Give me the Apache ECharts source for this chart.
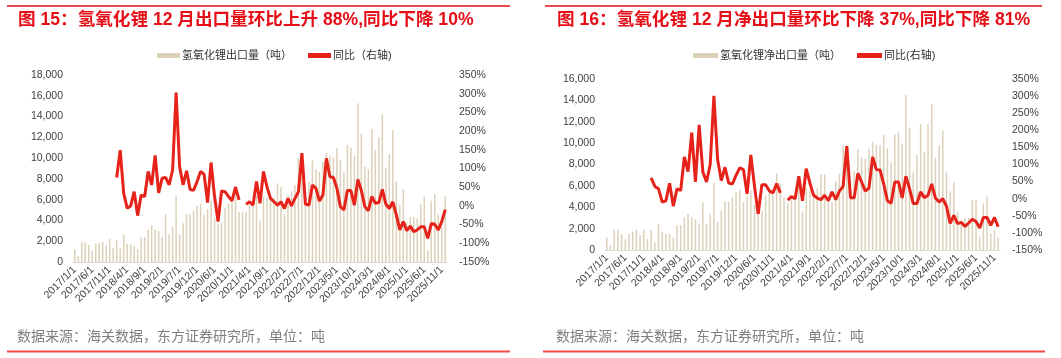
<!DOCTYPE html>
<html><head><meta charset="utf-8">
<script src="https://cdn.jsdelivr.net/npm/echarts@6/dist/echarts.min.js"></script>
<style>html,body{margin:0;padding:0;background:#fff}#c{width:1061px;height:358px}</style>
</head><body><div id="c"></div>
<script>
var categories = [
'2017/1/1','2017/2/1','2017/3/1','2017/4/1','2017/5/1','2017/6/1','2017/7/1','2017/8/1','2017/9/1','2017/10/1','2017/11/1','2017/12/1',
'2018/1/1','2018/2/1','2018/3/1','2018/4/1','2018/5/1','2018/6/1','2018/7/1','2018/8/1','2018/9/1','2018/10/1','2018/11/1','2018/12/1',
'2019/1/1','2019/2/1','2019/3/1','2019/4/1','2019/5/1','2019/6/1','2019/7/1','2019/8/1','2019/9/1','2019/10/1','2019/11/1','2019/12/1',
'2020/1/1','2020/3/1','2020/4/1','2020/5/1','2020/6/1','2020/7/1','2020/8/1','2020/9/1','2020/10/1','2020/11/1','2020/12/1',
'2021/1/1','2021/2/1','2021/3/1','2021/4/1','2021/5/1','2021/6/1','2021/7/1','2021/8/1','2021/9/1','2021/10/1','2021/11/1','2021/12/1',
'2022/1/1','2022/2/1','2022/3/1','2022/4/1','2022/5/1','2022/6/1','2022/7/1','2022/8/1','2022/9/1','2022/10/1','2022/11/1','2022/12/1',
'2023/1/1','2023/2/1','2023/3/1','2023/4/1','2023/5/1','2023/6/1','2023/7/1','2023/8/1','2023/9/1','2023/10/1','2023/11/1','2023/12/1',
'2024/1/1','2024/2/1','2024/3/1','2024/4/1','2024/5/1','2024/6/1','2024/7/1','2024/8/1','2024/9/1','2024/10/1','2024/11/1','2024/12/1',
'2025/1/1','2025/2/1','2025/3/1','2025/4/1','2025/5/1','2025/6/1','2025/7/1','2025/8/1','2025/9/1','2025/10/1','2025/11/1','2025/12/1'];

// 图15 氢氧化锂出口量（吨）
var exportVol = [
1220,580,1890,1890,1640,1060,1760,1830,1960,1640,2210,1350,
2120,1380,2600,1730,1730,1570,1250,2400,2400,3110,3500,3140,
2980,2440,4590,2700,3400,6380,2700,3720,4590,4590,4940,5420,
5610,
4560,5070,5900,4300,3700,3800,5200,5650,5970,7300,
4800,4800,4800,5500,5600,6400,4000,6300,6200,6000,6200,7570,
7190,4600,6500,6800,7380,9980,9500,6500,7670,9770,8920,8690,
9670,10500,10200,10060,10950,9800,8630,11270,11040,10230,15270,12320,
9180,8920,12770,10780,12000,14240,9020,10400,12710,7790,5470,7000,
3800,4360,4300,4200,5580,6290,1150,5900,6510,4600,3380,6350];
// 图15 同比（%）
var exportYoY = [
null,null,null,null,null,null,null,null,null,null,null,null,
76,149,34,-6,0,38,-26,29,25,92,56,135,
35,74,76,56,96,303,105,56,94,44,42,65,
92,
85,9,116,25,-42,40,38,25,14,50,
16,null,4,11,2,65,7,92,51,20,11,2,
11,-7,20,0,20,38,141,5,2,56,47,13,
29,127,78,76,47,-2,-11,41,41,2,71,41,
-2,-13,25,7,9,44,5,-7,11,-24,-64,-42,
-66,-54,-69,-64,-56,-56,-87,-47,-49,-64,-42,-10];

// 图16 氢氧化锂净出口量（吨）
var netExportVol = [
1190,470,1880,1880,1470,1030,1530,1720,1880,1375,1900,1030,
1880,720,2440,1720,1500,1530,1190,2310,2310,3060,3375,3090,
2875,2470,4470,2440,3340,6280,2625,3660,4530,4530,4940,5400,
5590,
4470,5000,5600,4200,3280,3660,5090,5620,5160,7190,
6250,4940,4375,4690,5250,6400,3590,5800,5600,5300,5840,7090,
7090,5000,4500,6400,7125,9780,9780,4900,7400,9470,8660,8530,
9470,10100,9840,9780,10780,9530,8125,10840,11000,9940,14530,11470,
7250,8900,11780,9150,11720,13650,8600,9780,11160,7250,5500,6340,
3600,2400,3000,3000,4690,4690,1250,4380,5000,1560,1850,1165];
// 图16 同比（%）
var netExportYoY = [
null,null,null,null,null,null,null,null,null,null,null,null,
61,36,29,-10,-6,45,-22,29,24,122,79,193,
49,216,79,49,100,301,115,53,92,46,43,68,
90,
85,14,128,36,-45,41,41,23,17,44,
17,null,-4,6,0,66,-6,88,46,10,2,-3,
10,-6,20,-3,22,36,154,3,3,74,49,22,
31,122,85,84,43,-6,-13,49,49,2,66,29,
-14,-14,20,3,10,43,2,-10,0,-22,-72,-49,
-73,-69,-81,-71,-60,-67,-86,-55,-55,-78,-55,-82];

var leftTicks = {min:0, max:18000, interval:2000};
var leftTicks2 = {min:0, max:16000, interval:2000};
var pctTicks = {min:-150, max:350, interval:50};

var FONT = '"Liberation Sans", "Noto Sans CJK SC", sans-serif';
var RED = '#E60E17';
var LINE = '#E5231B';
var BAR = '#DCD1B8';
var LBL = '#404040';

function xAx(g){
  return {type:'category', gridIndex:g, data:categories, boundaryGap:true,
    axisTick:{show:false}, axisLine:{lineStyle:{color:'#D9D9D9', width:1}},
    axisLabel:{rotate:45, interval:4, fontSize:10.5, color:LBL, fontFamily:FONT, margin:6}};
}
function yAx(g, t, pct){
  return {type:'value', gridIndex:g, min:t.min, max:t.max, interval:t.interval,
    position: pct ? 'right' : 'left',
    splitLine:{show:false}, axisLine:{show:false}, axisTick:{show:false},
    axisLabel:{fontSize:10.5, color:LBL, fontFamily:FONT, margin: pct ? 12 : 10,
      formatter: pct ? function(v){return v+'%';} : function(v){return v.toLocaleString('en-US');}}};
}

var chart = echarts.init(document.getElementById('c'), null, {renderer:'canvas'});
chart.setOption({
  animation:false,
  backgroundColor:'#fff',
  textStyle:{fontFamily:FONT},
  grid:[
    {left:73, right:1061-447, top:75, bottom:358-262, containLabel:false},
    {left:605, right:1061-1000, top:79, bottom:358-250, containLabel:false}
  ],
  xAxis:[xAx(0), xAx(1)],
  yAxis:[yAx(0,leftTicks,false), yAx(0,pctTicks,true), yAx(1,leftTicks2,false), yAx(1,pctTicks,true)],
  legend:[
    {left:152, top:45, itemWidth:23, itemHeight:5, itemGap:16,
     textStyle:{fontSize:11, color:'#333', fontFamily:FONT, padding:[0,0,0,-3]},
     data:[{name:'氢氧化锂出口量（吨）', icon:'rect'},{name:'同比（右轴)', icon:'rect'}]},
    {left:688, top:45, itemWidth:25, itemHeight:5, itemGap:16,
     textStyle:{fontSize:11, color:'#333', fontFamily:FONT, padding:[0,0,0,-3]},
     data:[{name:'氢氧化锂净出口量（吨）', icon:'rect'},{name:'同比(右轴)', icon:'rect'}]}
  ],
  series:[
    {name:'氢氧化锂出口量（吨）', type:'bar', xAxisIndex:0, yAxisIndex:0, data:exportVol, barWidth:1.5, itemStyle:{color:BAR}},
    {name:'同比（右轴)', type:'line', xAxisIndex:0, yAxisIndex:1, data:exportYoY, symbol:'none', connectNulls:false,
     lineStyle:{color:LINE, width:3}, itemStyle:{color:LINE}},
    {name:'氢氧化锂净出口量（吨）', type:'bar', xAxisIndex:1, yAxisIndex:2, data:netExportVol, barWidth:1.5, itemStyle:{color:BAR}},
    {name:'同比(右轴)', type:'line', xAxisIndex:1, yAxisIndex:3, data:netExportYoY, symbol:'none', connectNulls:false,
     lineStyle:{color:LINE, width:3}, itemStyle:{color:LINE}}
  ],
  graphic:[
    {type:'line', shape:{x1:7,y1:6,x2:510,y2:6}, style:{stroke:RED, lineWidth:1.5}},
    {type:'line', shape:{x1:545,y1:6,x2:1042,y2:6}, style:{stroke:RED, lineWidth:1.5}},
    {type:'line', shape:{x1:7,y1:351.5,x2:510,y2:351.5}, style:{stroke:'#F04A4A', lineWidth:2}},
    {type:'line', shape:{x1:543,y1:351.5,x2:1045,y2:351.5}, style:{stroke:'#F04A4A', lineWidth:2}},
    {type:'text', left:18, top:11, style:{text:'图 15：氢氧化锂 12 月出口量环比上升 88%,同比下降 10%', fill:RED, fontSize:17.6, fontWeight:'bold', fontFamily:FONT}},
    {type:'text', left:557, top:11, style:{text:'图 16：氢氧化锂 12 月净出口量环比下降 37%,同比下降 81%', fill:RED, fontSize:17.6, fontWeight:'bold', fontFamily:FONT}},
    {type:'text', left:17, top:330, style:{text:'数据来源：海关数据，东方证券研究所，单位：吨', fill:'#7F7F7F', fontSize:14, fontFamily:FONT}},
    {type:'text', left:556, top:330, style:{text:'数据来源：海关数据，东方证券研究所，单位：吨', fill:'#7F7F7F', fontSize:14, fontFamily:FONT}}
  ]
});
</script></body></html>
